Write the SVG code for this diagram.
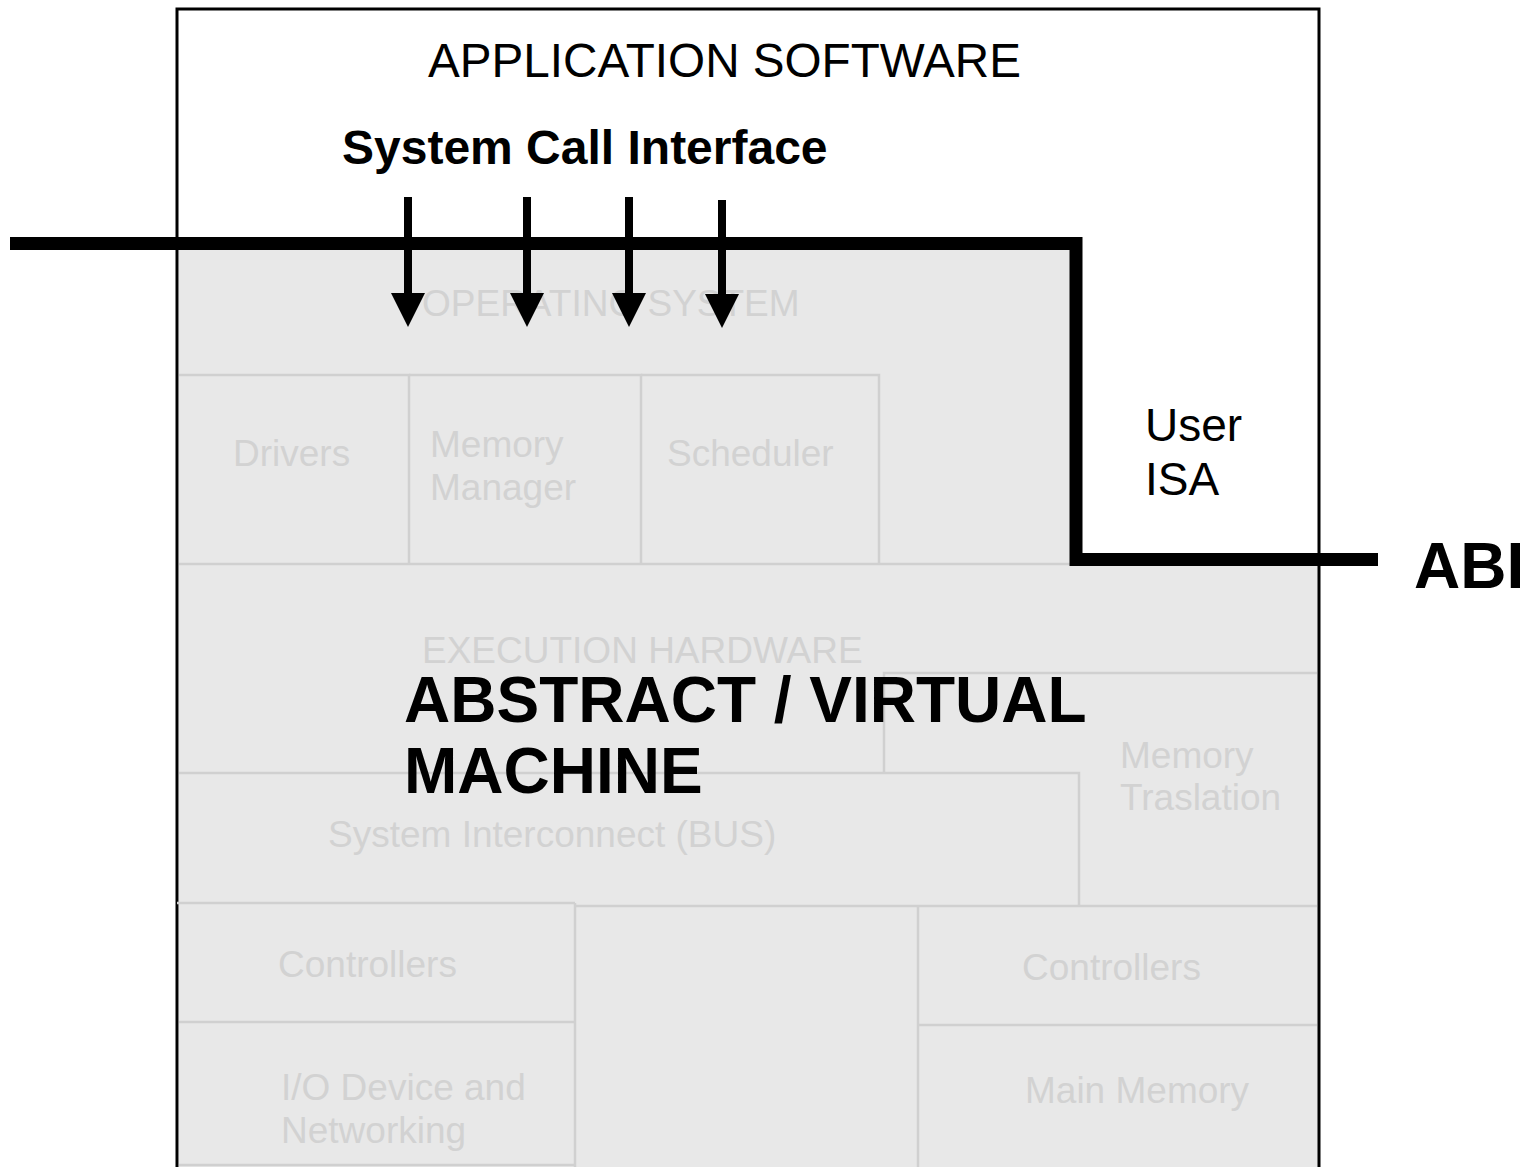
<svg xmlns="http://www.w3.org/2000/svg" width="1528" height="1167" viewBox="0 0 1528 1167">
<defs>
<style>
.t{font-family:"Liberation Sans",Arial,Helvetica,sans-serif;}
.blk{fill:#000;}
.g{fill:#d2d2d2;font-size:37px;}
.gl{stroke:#d0d0d0;stroke-width:2.5;fill:none;}
.bold{font-weight:bold;}
</style>
<marker id="ah" viewBox="0 0 34 34" markerWidth="34" markerHeight="34" markerUnits="userSpaceOnUse" refX="0" refY="17" orient="auto">
<path d="M0,0 L34,17 L0,34 z" fill="#000"/>
</marker>
</defs>
<rect width="1528" height="1167" fill="#fff"/>
<g id="outer-box">
<rect x="179" y="243" width="1139" height="924" fill="#e8e8e8"/>
<rect x="1076" y="243" width="242" height="316" fill="#fff"/>
<path d="M177,1167 V9 H1319 V1167" fill="none" stroke="#000" stroke-width="3"/>
</g>
<g id="application-software">
<text class="t blk" x="428" y="77" font-size="47.5" textLength="593" lengthAdjust="spacingAndGlyphs">APPLICATION SOFTWARE</text>
<text class="t blk bold" x="342" y="164" font-size="48">System Call Interface</text>
</g>
<g id="operating-system">
<text class="t g" x="422" y="316">OPERATING SYSTEM</text>
</g>
<g id="drivers">
<path class="gl" d="M179,375 H409 V563"/>
<text class="t g" x="233" y="466">Drivers</text>
</g>
<g id="memory-manager">
<path class="gl" d="M409,375 H641 V563"/>
<text class="t g" x="430" y="457">Memory</text>
<text class="t g" x="430" y="500">Manager</text>
</g>
<g id="scheduler">
<path class="gl" d="M641,375 H879 V563"/>
<text class="t g" x="667" y="466">Scheduler</text>
</g>
<g id="user-isa">
<text class="t blk" x="1145" y="441" font-size="46">User</text>
<text class="t blk" x="1145" y="495" font-size="46">ISA</text>
</g>
<g id="execution-hardware">
<path class="gl" d="M179,564 H1317" stroke-width="3"/>
<text class="t g" x="422" y="663">EXECUTION HARDWARE</text>
</g>
<g id="memory-translation">
<path class="gl" d="M884,773 V673 H1317"/>
<text class="t g" x="1120" y="768">Memory</text>
<text class="t g" x="1120" y="810">Traslation</text>
</g>
<g id="system-interconnect">
<path class="gl" d="M179,773 H1079 V905"/>
<text class="t g" x="328" y="847">System Interconnect (BUS)</text>
</g>
<g id="controllers-left">
<path class="gl" d="M177,903 H575 M179,1022 H575" stroke-width="3"/>
<text class="t g" x="278" y="977">Controllers</text>
</g>
<g id="io-device">
<path class="gl" d="M575,903 V1167 M179,1165 H575"/>
<text class="t g" x="281" y="1100">I/O Device and</text>
<text class="t g" x="281" y="1143">Networking</text>
</g>
<g id="controllers-right">
<path class="gl" d="M575,906 H1317 M918,906 V1167 M918,1025 H1317" stroke-width="3"/>
<text class="t g" x="1022" y="980">Controllers</text>
</g>
<g id="main-memory">
<text class="t g" x="1025" y="1103">Main Memory</text>
</g>
<g id="connectors">
<path d="M10,243.5 H1076 V559.5 H1378" fill="none" stroke="#000" stroke-width="13" stroke-linejoin="miter"/>
<line x1="408" y1="197" x2="408" y2="293" stroke="#000" stroke-width="8" marker-end="url(#ah)"/>
<line x1="527" y1="197" x2="527" y2="293" stroke="#000" stroke-width="8" marker-end="url(#ah)"/>
<line x1="629" y1="197" x2="629" y2="293" stroke="#000" stroke-width="8" marker-end="url(#ah)"/>
<line x1="722" y1="200" x2="722" y2="294" stroke="#000" stroke-width="8" marker-end="url(#ah)"/>
</g>
<g id="abstract-machine">
<text class="t blk bold" x="404" y="722" font-size="64">ABSTRACT / VIRTUAL</text>
<text class="t blk bold" x="404" y="793" font-size="64">MACHINE</text>
</g>
<g id="abi">
<text class="t blk bold" x="1414" y="588" font-size="64">ABI</text>
</g>
</svg>
